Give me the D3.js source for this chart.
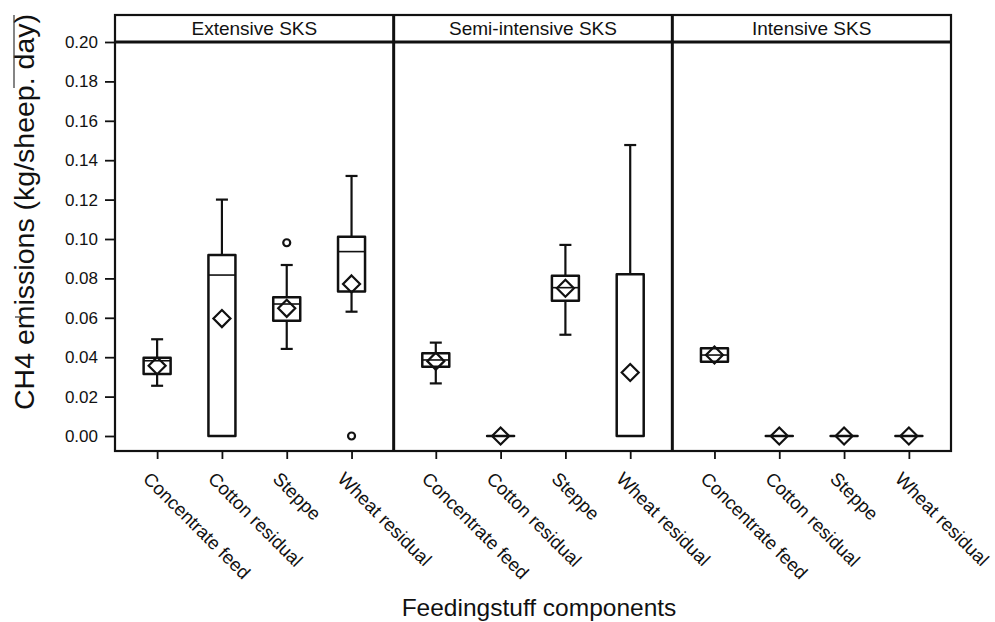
<!DOCTYPE html>
<html>
<head>
<meta charset="utf-8">
<script src="https://cdn.jsdelivr.net/npm/d3@7"></script>
<style>
body { margin: 0; background: #fff; }
text { font-family: "Liberation Sans", Arial, sans-serif; fill: #111; }
</style>
</head>
<body>
<script>
// panels and categories
var systems = ["Extensive SKS", "Semi-intensive SKS", "Intensive SKS"];
var feeds = ["Concentrate feed", "Cotton residual", "Steppe", "Wheat residual"];

// box plot stats, one row per system, one value per feed
var lowValues    = [[0.0255, 0, 0.0442, 0.0631], [0.0267, 0, 0.0514, 0], [0.0377, 0, 0, 0]];
var q1Values     = [[0.0315, 0, 0.0585, 0.0733], [0.0352, 0, 0.0687, 0], [0.0377, 0, 0, 0]];
var medianValues = [[0.0382, 0.0817, 0.0670, 0.0936], [0.0386, 0, 0.0753, 0], [0.0411, 0, 0, 0]];
var q3Values     = [[0.0397, 0.0919, 0.0704, 0.1012], [0.0420, 0, 0.0814, 0.0821], [0.0445, 0, 0, 0]];
var highValues   = [[0.0491, 0.1200, 0.0868, 0.1320], [0.0474, 0, 0.0970, 0.1477], [0.0445, 0, 0, 0]];
var meanValues   = [[0.0357, 0.0596, 0.0648, 0.0772], [0.0380, 0, 0.0750, 0.0322], [0.0411, 0, 0, 0]];
var outliers     = [[[], [], [0.0981], [0]], [[], [], [], []], [[], [], [], []]];

var yTicks = [0, 0.02, 0.04, 0.06, 0.08, 0.10, 0.12, 0.14, 0.16, 0.18, 0.20];

var width = 995, height = 622;
var plotTop = 15, stripBottom = 42, plotBottom = 451, plotLeft = 115, plotRight = 951;
var ink = "#111";

var svg = d3.select("body").append("svg").attr("width", width).attr("height", height);

var y = d3.scaleLinear().domain([0, 0.20]).range([436, 42]);
var xPanel = d3.scaleBand().domain(systems).range([plotLeft, plotRight]);
var xFeed = d3.scalePoint().domain(feeds).range([0, xPanel.bandwidth()]).padding(0.65);

// y axis
var yAxis = svg.append("g")
    .attr("transform", "translate(" + plotLeft + ",0)")
    .call(d3.axisLeft(y).tickValues(yTicks).tickFormat(d3.format(".2f")).tickSize(10).tickPadding(7));
yAxis.select(".domain").remove();
yAxis.selectAll(".tick line").attr("stroke", ink).attr("stroke-width", 1.8);
yAxis.selectAll(".tick text").attr("font-size", 17).attr("font-family", null).style("fill", ink);

var boxHalf = 13.5, capHalf = 6, diam = 8.5;

systems.forEach(function(s, i) {
  var g = svg.append("g").attr("transform", "translate(" + xPanel(s) + ",0)");

  var xAxis = g.append("g")
      .attr("transform", "translate(0," + plotBottom + ")")
      .call(d3.axisBottom(xFeed).tickSize(8).tickFormat(""));
  xAxis.select(".domain").remove();
  xAxis.selectAll(".tick line").attr("stroke", ink).attr("stroke-width", 1.8);

  g.selectAll(".cat").data(feeds).enter().append("text")
      .attr("class", "cat")
      .attr("transform", function(f) { return "translate(" + (xFeed(f) - 15) + ",480) rotate(45)"; })
      .attr("font-size", 18.5)
      .text(function(f) { return f; });

  g.append("text")
      .attr("x", xPanel.bandwidth() / 2)
      .attr("y", 35)
      .attr("text-anchor", "middle")
      .attr("font-size", 19)
      .text(s);

  feeds.forEach(function(f, j) {
    var cx = xFeed(f);
    var lo = lowValues[i][j], q1 = q1Values[i][j], md = medianValues[i][j],
        q3 = q3Values[i][j], hi = highValues[i][j], mn = meanValues[i][j];

    if (hi > q3) {
      g.append("line").attr("x1", cx).attr("x2", cx).attr("y1", y(q3)).attr("y2", y(hi))
        .attr("stroke", ink).attr("stroke-width", 2.2);
      g.append("line").attr("x1", cx - capHalf).attr("x2", cx + capHalf).attr("y1", y(hi)).attr("y2", y(hi))
        .attr("stroke", ink).attr("stroke-width", 2.2);
    }
    if (lo < q1) {
      g.append("line").attr("x1", cx).attr("x2", cx).attr("y1", y(q1)).attr("y2", y(lo))
        .attr("stroke", ink).attr("stroke-width", 2.2);
      g.append("line").attr("x1", cx - capHalf).attr("x2", cx + capHalf).attr("y1", y(lo)).attr("y2", y(lo))
        .attr("stroke", ink).attr("stroke-width", 2.2);
    }

    g.append("path")
      .attr("d", "M" + (cx - boxHalf) + "," + y(q3) + "H" + (cx + boxHalf) + "V" + y(q1) + "H" + (cx - boxHalf) + "Z")
      .attr("fill", "none").attr("stroke", ink).attr("stroke-width", 2.5).attr("stroke-linejoin", "round");

    g.append("line").attr("x1", cx - boxHalf).attr("x2", cx + boxHalf).attr("y1", y(md)).attr("y2", y(md))
      .attr("stroke", ink).attr("stroke-width", 1.6);

    g.append("path")
      .attr("d", "M" + cx + "," + (y(mn) - diam) + "L" + (cx + diam) + "," + y(mn) + "L" + cx + "," + (y(mn) + diam) + "L" + (cx - diam) + "," + y(mn) + "Z")
      .attr("fill", "none").attr("stroke", ink).attr("stroke-width", 2.2);

    outliers[i][j].forEach(function(v) {
      g.append("circle").attr("cx", cx).attr("cy", y(v)).attr("r", 3.5)
        .attr("fill", "none").attr("stroke", ink).attr("stroke-width", 2.2);
    });
  });
});

// frame, strip and panel dividers
svg.append("rect")
    .attr("x", plotLeft).attr("y", plotTop)
    .attr("width", plotRight - plotLeft).attr("height", plotBottom - plotTop)
    .attr("fill", "none").attr("stroke", ink).attr("stroke-width", 2.2);
svg.append("line").attr("x1", plotLeft).attr("x2", plotRight).attr("y1", stripBottom).attr("y2", stripBottom)
    .attr("stroke", ink).attr("stroke-width", 3);
systems.slice(1).forEach(function(s) {
  svg.append("line").attr("x1", xPanel(s)).attr("x2", xPanel(s)).attr("y1", plotTop).attr("y2", plotBottom)
    .attr("stroke", ink).attr("stroke-width", 3);
});

// axis titles
svg.append("text")
    .attr("transform", "translate(34,212) rotate(-90)")
    .attr("text-anchor", "middle")
    .attr("font-size", 28.5)
    .text("CH4 emissions (kg/sheep. day)");

svg.append("text")
    .attr("x", 539).attr("y", 616)
    .attr("text-anchor", "middle")
    .attr("font-size", 24.5)
    .text("Feedingstuff components");

// scan marks at the left edge
svg.append("line").attr("x1", 14).attr("x2", 14).attr("y1", 15).attr("y2", 88).attr("stroke", "#333").attr("stroke-width", 1.2);
svg.append("line").attr("x1", 15).attr("x2", 33).attr("y1", 317).attr("y2", 317).attr("stroke", "#333").attr("stroke-width", 1.2);
</script>
</body>
</html>
